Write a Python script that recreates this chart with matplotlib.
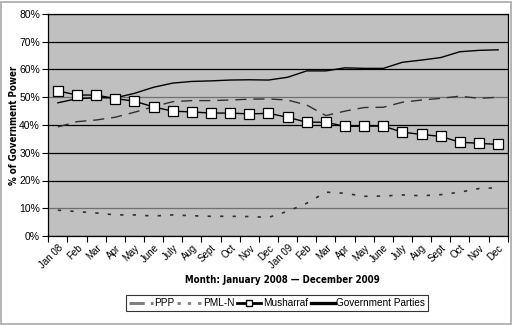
import matplotlib
matplotlib.use("Agg")
import matplotlib.pyplot as plt
from matplotlib.lines import Line2D
from matplotlib.patches import Rectangle
from matplotlib import font_manager
import numpy as np

plt.rcParams['font.family'] = ['Liberation Sans', 'DejaVu Sans']

months = ["Jan 08", "Feb", "Mar", "Apr", "May", "June", "July", "Aug", "Sept", "Oct", "Nov", "Dec",
          "Jan 09", "Feb", "Mar", "Apr", "May", "June", "July", "Aug", "Sept", "Oct", "Nov", "Dec"]

ppp = [39.3, 41.2, 41.8, 42.8, 44.6, 46.6, 48.4, 48.8, 48.8, 49.0, 49.3, 49.4,
       49.0, 47.2, 43.4, 45.0, 46.3, 46.4, 48.2, 49.0, 49.6, 50.4, 49.6, 50.0]
pml_n = [9.3, 8.8, 8.3, 7.6, 7.6, 7.2, 7.6, 7.3, 7.1, 7.1, 7.0, 6.7,
         8.9, 11.8, 15.8, 15.4, 14.3, 14.4, 14.8, 14.5, 14.9, 15.8, 17.1, 17.4]
musharraf = [52.3, 50.8, 50.8, 49.5, 48.6, 46.5, 45.0, 44.7, 44.3, 44.3, 44.0, 44.2,
             42.8, 41.0, 41.0, 39.5, 39.6, 39.6, 37.4, 36.6, 35.9, 33.8, 33.4, 33.0]
gov_parties = [48.0, 49.5, 49.8, 49.8, 51.4, 53.6, 55.1, 55.7, 55.9, 56.2, 56.3, 56.2,
               57.2, 59.5, 59.5, 60.6, 60.4, 60.4, 62.6, 63.4, 64.3, 66.4, 66.9, 67.1]

yticks = [0, 10, 20, 30, 40, 50, 60, 70, 80]

fonts = [(f.name, f.stretch, f.weight) for f in font_manager.fontManager.ttflist]
has_cond = any(n == 'DejaVu Sans' and str(s) in ('condensed', 'semi-condensed') for n, s, w in fonts)
title_kw = dict(family=['DejaVu Sans'], fontstretch='condensed', fontsize=7.0) if has_cond \
    else dict(family=['Liberation Sans', 'DejaVu Sans'], fontsize=7.0)

W, H = 513, 325
fig = plt.figure(figsize=(W / 100, H / 100), dpi=100)
fig.patch.set_facecolor('white')
fig.patches.append(Rectangle((1 / W, 1 / H), 1 - 3 / W, 1 - 3 / H, transform=fig.transFigure,
                             fill=False, edgecolor='#a8a8a8', linewidth=1.2))

ax = fig.add_axes([48.3 / W, 1 - 236 / H, (507.7 - 48.3) / W, (236 - 14) / H])
ax.set_facecolor('#c0c0c0')

x = np.arange(len(months))

for v in yticks:
    col = '#707070' if v in (10, 50) else 'black'
    ax.axhline(v, color=col, linewidth=0.9, zorder=1)

ax.plot(x, gov_parties, color='black', linewidth=1.0, zorder=3)
ax.plot(x, ppp, color='#303030', linewidth=1.0, dashes=(8, 5), zorder=3)
ax.plot(x, pml_n, color='#303030', linewidth=1.2, dashes=(2, 5.5), zorder=3)
ax.plot(x, musharraf, color='black', linewidth=1.0, marker='s', markersize=6.5,
        markerfacecolor='white', markeredgecolor='black', markeredgewidth=0.9, zorder=4)

ax.set_xlim(-0.5, len(months) - 0.5)
ax.set_ylim(0, 80)
ax.set_yticks(yticks)
ax.set_yticklabels([f"{v}%" for v in yticks], fontsize=7.5)
ax.tick_params(axis='y', direction='out', length=4, width=0.8, pad=2)

ax.set_xticks(x)
ax.set_xticklabels(months, rotation=45, ha='right', va='top', rotation_mode='anchor', fontsize=7)
ax.tick_params(axis='x', which='major', length=0, pad=5)
ax.set_xticks(np.arange(-0.5, len(months), 1.0), minor=True)
ax.tick_params(axis='x', which='minor', direction='out', length=4, width=0.8)

for s in ax.spines.values():
    s.set_color('black')
    s.set_linewidth(0.9)

fig.text(14 / W, 1 - 125 / H, "% of Government Power", rotation=90, ha='center', va='center',
         fontweight='bold', **title_kw)
fig.text(282 / W, 1 - 280 / H, "Month: January 2008 \u2014 December 2009", ha='center', va='center',
         fontweight='bold', **title_kw)

handles = [
    Line2D([], [], color='#808080', linewidth=2.2, dashes=(5, 2)),
    Line2D([], [], color='#808080', linewidth=2.0, dashes=(1.2, 2.5)),
    Line2D([], [], color='black', linewidth=2.0, marker='s', markersize=5,
           markerfacecolor='white', markeredgecolor='black'),
    Line2D([], [], color='black', linewidth=2.4),
]
labels = ["PPP", "PML-N", "Musharraf", "Government Parties"]
leg = fig.legend(handles, labels, loc='center', bbox_to_anchor=(277 / W, 1 - 303 / H), ncol=4,
                 fontsize=7.2, frameon=True, fancybox=False, handlelength=2.4, handletextpad=0.15,
                 columnspacing=0.3, borderpad=0.3, borderaxespad=0)
leg.get_frame().set_edgecolor('black')
leg.get_frame().set_linewidth(0.8)

fig.savefig("out.png", dpi=100)
